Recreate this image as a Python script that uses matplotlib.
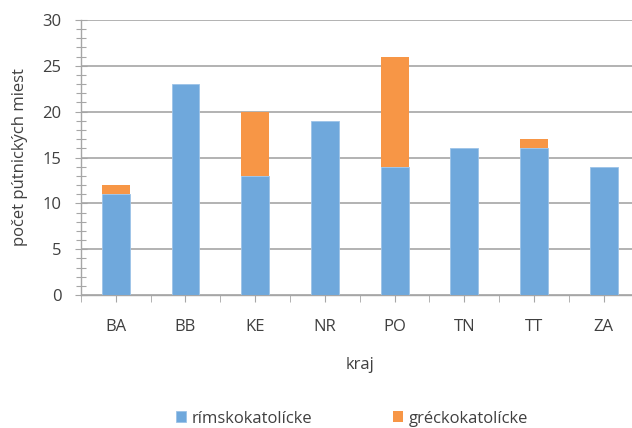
import numpy as np
import matplotlib.pyplot as plt
from matplotlib.ticker import MultipleLocator

plt.rcParams['font.family'] = ['Open Sans', 'DejaVu Sans']

kraje = ['BA', 'BB', 'KE', 'NR', 'PO', 'TN', 'TT', 'ZA']
rimsko = [11, 23, 13, 19, 14, 16, 16, 14]
grecko = [1, 0, 7, 0, 12, 0, 1, 0]

modra = '#6FA8DC'
oranzova = '#F79646'
siva = '#A6A6A6'
text = '#404040'

fig = plt.figure(figsize=(6.32, 4.28), dpi=100)
ax = fig.add_axes([0.128, 0.3107, 0.8824, 0.6426])

x = np.arange(len(kraje))
ax.bar(x, rimsko, width=0.40, color=modra, edgecolor='#9CC3E8', linewidth=0.6,
       label='rímskokatolícke', zorder=3)
ax.bar(x, grecko, width=0.40, bottom=rimsko, color=oranzova, linewidth=0,
       label='gréckokatolícke', zorder=3)

ax.set_xlim(-0.5, 7.5)
ax.set_ylim(0, 30)
ax.yaxis.set_major_locator(MultipleLocator(5))
ax.yaxis.set_minor_locator(MultipleLocator(1))
ax.set_xticks(x)
ax.set_xticks(np.arange(-0.5, 8, 1), minor=True)
ax.set_xticklabels(kraje)

ax.grid(axis='y', color=siva, linewidth=1.2, zorder=0)
for s in ['top', 'right']:
    ax.spines[s].set_visible(False)
for s in ['left', 'bottom']:
    ax.spines[s].set_color(siva)
    ax.spines[s].set_linewidth(1.0)

ax.tick_params(axis='y', which='both', direction='inout', color=siva, labelsize=12,
               labelcolor=text, pad=10)
ax.tick_params(axis='y', which='major', length=8)
ax.tick_params(axis='y', which='minor', length=7, width=0.8)
ax.tick_params(axis='x', which='both', direction='out', length=5, color=siva,
               labelsize=12, labelcolor=text, pad=12)

ax.set_xlabel('kraj', fontsize=12, color=text, labelpad=16)
ax.set_ylabel('počet pútnických miest', fontsize=12, color=text, labelpad=10)

fig.legend(loc='center', bbox_to_anchor=(0.557, 0.022), ncol=2, frameon=False,
           fontsize=12, handlelength=0.6, handleheight=0.6, columnspacing=4.9,
           handletextpad=0.3, labelcolor=text)

fig.savefig('out.png', dpi=100)
